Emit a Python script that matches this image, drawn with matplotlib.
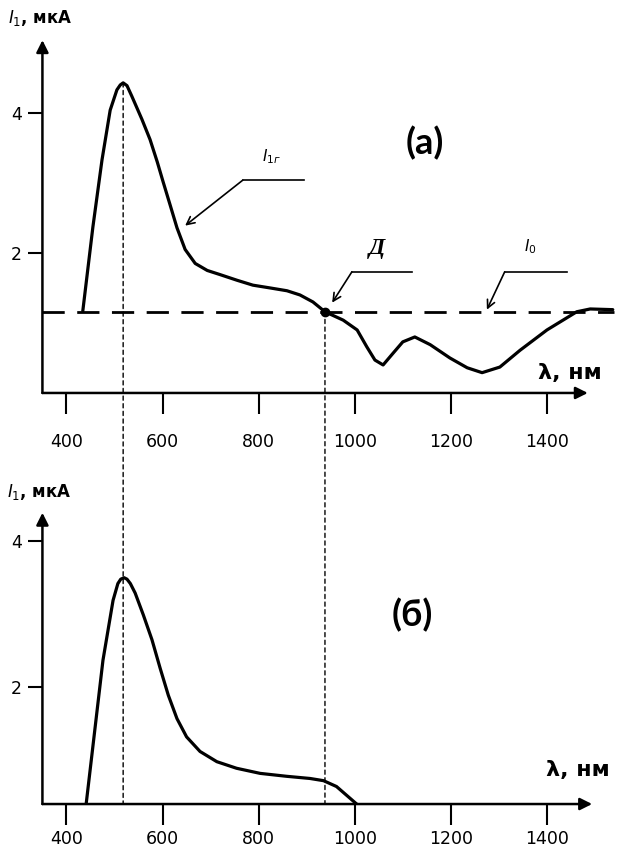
import numpy as np
import matplotlib.pyplot as plt
from matplotlib.patches import ConnectionPatch

plt.rcParams['font.family'] = ['DejaVu Sans']

# panel (а): photocurrent I1г, nm / мкА
wl_a = [434, 455, 474, 491, 505, 512, 518, 526, 536, 557, 574, 589, 601, 616,
        630, 647, 668, 693, 720, 755, 788, 824, 859, 886, 913, 938, 976, 1005,
        1025, 1042, 1059, 1080, 1100, 1125, 1157, 1198, 1234, 1265, 1302, 1344,
        1400, 1462, 1490, 1537]
cur_a = [1.17, 2.37, 3.33, 4.04, 4.33, 4.40, 4.43, 4.39, 4.24, 3.91, 3.62, 3.30,
         3.02, 2.68, 2.36, 2.05, 1.85, 1.75, 1.69, 1.61, 1.54, 1.50, 1.46, 1.40,
         1.30, 1.16, 1.04, 0.90, 0.66, 0.47, 0.40, 0.57, 0.73, 0.80, 0.69, 0.50,
         0.36, 0.29, 0.37, 0.61, 0.90, 1.16, 1.20, 1.19]
i0_level = 1.16
i0_range = [350, 1540]
d_point = (938, 1.16)

# panel (б)
wl_b = [441, 476, 497, 507, 513, 520, 526, 533, 543, 560, 578, 595, 612, 630,
        650, 678, 713, 754, 803, 858, 907, 935, 962, 983, 1004]
cur_b = [0.40, 2.37, 3.19, 3.42, 3.48, 3.50, 3.48, 3.42, 3.29, 2.99, 2.65, 2.26,
         1.89, 1.57, 1.32, 1.12, 0.98, 0.89, 0.82, 0.78, 0.75, 0.72, 0.64, 0.52,
         0.40]

peak_wl = 518
xticks = [400, 600, 800, 1000, 1200, 1400]
yticks = [2, 4]

fig = plt.figure(figsize=(6.38, 8.58), dpi=100)
ax1 = fig.add_axes([0.0665, 0.542, 0.900, 0.4161])
ax2 = fig.add_axes([0.0665, 0.0629, 0.900, 0.3446])


def setup(ax, ylo, yhi, x_arrow, y_arrow, xpad):
    ax.set_xlim(350, 1545)
    ax.set_ylim(ylo, yhi)
    for s in ax.spines.values():
        s.set_visible(False)
    ax.set_xticks(xticks)
    ax.set_yticks(yticks)
    ax.tick_params(axis='x', direction='out', length=15, width=1.5,
                   pad=xpad, labelsize=12.5)
    ax.tick_params(axis='y', direction='out', length=10, width=1.5,
                   pad=5, labelsize=12.5)
    ax.patch.set_visible(False)
    arr = dict(arrowstyle='-|>', mutation_scale=18, lw=1.8, color='k',
               shrinkA=0, shrinkB=0)
    ax.annotate('', xy=(x_arrow, ylo), xytext=(350, ylo), arrowprops=arr,
                annotation_clip=False)
    ax.annotate('', xy=(350, y_arrow), xytext=(350, ylo), arrowprops=arr,
                annotation_clip=False)


setup(ax1, 0, 5.1, 1485, 5.04, 14)
setup(ax2, 0.4, 4.45, 1494, 4.39, 3.5)

# panel (а)
ax1.plot(i0_range, [i0_level, i0_level], color='k', lw=2.0,
         dashes=(8, 4.5), clip_on=False)
ax1.plot(wl_a, cur_a, color='k', lw=2.3, solid_joinstyle='round',
         solid_capstyle='round', clip_on=False)
ax1.plot(*d_point, 'o', color='k', ms=6)

lead = dict(arrowstyle='->', lw=1.2, color='k', shrinkA=0, shrinkB=0,
            mutation_scale=14)
ax1.plot([767, 894], [3.04, 3.04], color='k', lw=1.2)
ax1.annotate('', xy=(647, 2.39), xytext=(767, 3.04), arrowprops=lead)
ax1.plot([994, 1119], [1.73, 1.73], color='k', lw=1.2)
ax1.annotate('', xy=(953, 1.29), xytext=(994, 1.73), arrowprops=lead)
ax1.plot([1312, 1441], [1.73, 1.73], color='k', lw=1.2)
ax1.annotate('', xy=(1275, 1.19), xytext=(1312, 1.73), arrowprops=lead)

ax1.text(826, 3.37, r'$\it{I}_{1г}$', fontsize=11, ha='center', va='center')
ax1.text(1365, 2.09, r'$\it{I}_{0}$', fontsize=11, ha='center', va='center')
ax1.text(1046, 2.07, 'Д', fontsize=17, fontweight='bold', style='italic',
         family='Liberation Serif', ha='center', va='center')
ax1.text(1146, 3.57, '(а)', fontsize=26, fontweight='bold', family='Lato',
         ha='center', va='center')
ax1.text(1448, 0.29, 'λ, нм', fontsize=16, fontweight='bold',
         ha='center', va='center')

# panel (б)
ax2.plot(wl_b, cur_b, color='k', lw=2.3, solid_joinstyle='round',
         solid_capstyle='round')
ax2.text(1119, 2.99, '(б)', fontsize=26, fontweight='bold', family='Lato',
         ha='center', va='center')
ax2.text(1465, 0.87, 'λ, нм', fontsize=16, fontweight='bold',
         ha='center', va='center')

# y labels
fig.text(8 / 638, 1 - 18 / 858, r'$\it{I}_{1}$, мкА', fontsize=12,
         fontweight='bold', ha='left', va='center')
fig.text(7 / 638, 1 - 492 / 858, r'$\it{I}_{1}$, мкА', fontsize=12,
         fontweight='bold', ha='left', va='center')

# vertical guide lines through both panels
for xa, ya in [(peak_wl, 4.43), d_point]:
    con = ConnectionPatch(xyA=(xa, ya), coordsA=ax1.transData,
                          xyB=(xa, 0.4), coordsB=ax2.transData,
                          color='k', lw=1.0, linestyle=(0, (3, 2.5)))
    fig.add_artist(con)

fig.savefig('out.png', dpi=100)
